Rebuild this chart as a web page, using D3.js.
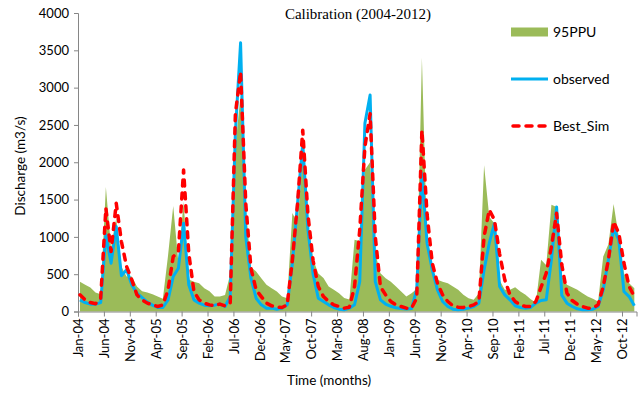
<!DOCTYPE html>
<html>
<head>
<meta charset="utf-8">
<script src="https://cdn.jsdelivr.net/npm/d3@7"></script>
<style>
  body { margin: 0; background: #fff; }
  svg { display: block; }
  .tick text { font-family: Lato, "Open Sans", sans-serif; font-size: 13px; fill: #000; }
  .tick line, .domain { stroke: #868686; }
</style>
</head>
<body>
<div id="chart"></div>
<script>
// monthly series, Jan-2004 .. Dec-2012 (108 months), m3/s
const ppu95 = [
  400, 360, 320, 255, 230, 1670, 850, 1250, 600, 470, 470, 335,
  270, 255, 230, 200, 170, 750, 1415, 650, 1470, 430, 400, 380,
  310, 270, 200, 200, 220, 500, 2200, 2900, 1400, 600, 535, 446,
  357, 312, 268, 200, 178, 1320, 1180, 2100, 1200, 700, 510, 450,
  335, 290, 245, 180, 160, 960, 940, 1900, 2000, 780, 513, 446,
  400, 335, 268, 200, 245, 300, 3400, 900, 520, 424, 400, 380,
  335, 290, 223, 178, 156, 245, 1960, 1270, 1180, 420, 290, 290,
  326, 268, 223, 165, 120, 692, 620, 1430, 1400, 468, 357, 326,
  290, 245, 200, 170, 134, 736, 900, 1440, 1000, 513, 380, 312
];
const observed = [
  156, 120, 98, 98, 120, 1027, 647, 1138, 480, 560, 357, 245,
  187, 125, 85, 54, 54, 156, 469, 580, 1183, 357, 156, 112,
  85, 76, 85, 100, 67, 200, 2400, 3600, 1000, 446, 178, 89,
  45, 45, 31, 45, 89, 647, 1450, 2254, 1100, 500, 178, 134,
  89, 54, 31, 22, 45, 90, 400, 2522, 2902, 400, 156, 100,
  70, 50, 40, 35, 40, 300, 1850, 915, 558, 290, 134, 67,
  31, 22, 31, 45, 67, 112, 558, 915, 1180, 335, 223, 156,
  76, 54, 45, 54, 112, 147, 156, 700, 1400, 220, 112, 67,
  36, 22, 22, 31, 67, 290, 692, 1116, 960, 268, 200, 76
];
const bestSim = [
  223, 156, 120, 103, 178, 1384, 803, 1451, 937, 603, 424, 223,
  156, 112, 89, 67, 89, 290, 736, 803, 1897, 781, 268, 156,
  112, 89, 76, 100, 76, 112, 2650, 3214, 1450, 580, 290, 200,
  112, 76, 58, 54, 89, 692, 1450, 2430, 1300, 680, 335, 200,
  134, 89, 67, 45, 58, 335, 1094, 2210, 2650, 1004, 330, 223,
  134, 89, 67, 45, 45, 180, 2430, 1300, 647, 380, 223, 134,
  76, 58, 54, 67, 89, 134, 1004, 1362, 1228, 770, 424, 223,
  134, 89, 67, 67, 134, 326, 513, 870, 1317, 625, 245, 147,
  98, 67, 45, 45, 89, 335, 692, 1205, 1049, 647, 335, 200
];
const tickLabels = ["Jan-04", "Jun-04", "Nov-04", "Apr-05", "Sep-05", "Feb-06", "Jul-06",
  "Dec-06", "May-07", "Oct-07", "Mar-08", "Aug-08", "Jan-09", "Jun-09", "Nov-09", "Apr-10",
  "Sep-10", "Feb-11", "Jul-11", "Dec-11", "May-12", "Oct-12"];
const yTicks = [0, 500, 1000, 1500, 2000, 2500, 3000, 3500, 4000];
const seriesNames = ["95PPU", "observed", "Best_Sim"];

const width = 640, height = 393;
const margin = {top: 13, right: 3.5, bottom: 81.5, left: 78};
const dayOffset = 0.38; // points sit a bit after the month tick

const svg = d3.select("#chart").append("svg")
    .attr("width", width)
    .attr("height", height);

let x = d3.scaleLinear()
    .domain([0, 107.8])
    .range([margin.left, width - margin.right]);
let y = d3.scaleLinear()
    .domain([0, 4000])
    .range([height - margin.bottom, margin.top]);

let px = (d, i) => x(i + dayOffset);

// 95PPU band
svg.append("path")
    .datum(ppu95)
    .attr("fill", "#9bbb59")
    .attr("d", d3.area().x(px).y0(y(0)).y1(d => y(d)));

// axes
let yAxis = svg.append("g")
    .attr("transform", `translate(${margin.left},0)`)
    .call(d3.axisLeft(y).tickValues(yTicks).tickSize(4).tickPadding(5).tickFormat(d3.format("d")));

let xAxis = svg.append("g")
    .attr("transform", `translate(0,${y(0)})`)
    .call(d3.axisBottom(x)
        .tickValues(tickLabels.map((d, i) => i * 5))
        .tickSize(5)
        .tickFormat((d, i) => tickLabels[i]));

xAxis.selectAll("text")
    .attr("transform", "rotate(-90)")
    .attr("text-anchor", "end")
    .attr("x", -7)
    .attr("y", 0)
    .attr("dy", "0.36em");

svg.selectAll(".domain").attr("stroke-width", 1);

// lines
svg.append("path")
    .datum(observed)
    .attr("fill", "none")
    .attr("stroke", "#00b0f0")
    .attr("stroke-width", 3)
    .attr("stroke-linejoin", "round")
    .attr("d", d3.line().x(px).y(d => y(d)));

svg.append("path")
    .datum(bestSim)
    .attr("fill", "none")
    .attr("stroke", "#ff0000")
    .attr("stroke-width", 3.5)
    .attr("stroke-linecap", "round")
    .attr("stroke-linejoin", "round")
    .attr("stroke-dasharray", "6,7")
    .attr("d", d3.line().x(px).y(d => y(d)));

// title and axis titles
svg.append("text")
    .attr("x", 358)
    .attr("y", 19)
    .attr("text-anchor", "middle")
    .style("font-family", "'Liberation Serif', 'Times New Roman', serif")
    .style("font-size", "15px")
    .text("Calibration (2004-2012)");

svg.append("text")
    .attr("x", 329)
    .attr("y", 385)
    .attr("text-anchor", "middle")
    .style("font-family", "Lato, sans-serif")
    .style("font-size", "13.5px")
    .text("Time (months)");

svg.append("text")
    .attr("transform", `translate(25,166) rotate(-90)`)
    .attr("text-anchor", "middle")
    .style("font-family", "Lato, sans-serif")
    .style("font-size", "13.5px")
    .text("Discharge (m3/s)");

// legend
let legend = svg.append("g").attr("transform", "translate(511,0)");
let rows = [32, 79, 126];

legend.append("rect")
    .attr("x", 0).attr("y", rows[0] - 4.5)
    .attr("width", 37).attr("height", 9)
    .attr("fill", "#9bbb59");
legend.append("line")
    .attr("x1", 0).attr("x2", 37).attr("y1", rows[1]).attr("y2", rows[1])
    .attr("stroke", "#00b0f0").attr("stroke-width", 3);
legend.append("line")
    .attr("x1", 2).attr("x2", 37).attr("y1", rows[2]).attr("y2", rows[2])
    .attr("stroke", "#ff0000").attr("stroke-width", 3.5)
    .attr("stroke-linecap", "round").attr("stroke-dasharray", "6,7");

legend.selectAll("text.lg")
    .data(seriesNames)
    .join("text")
    .attr("class", "lg")
    .attr("x", 42)
    .attr("y", (d, i) => rows[i])
    .attr("dy", "0.36em")
    .style("font-family", "Lato, sans-serif")
    .style("font-size", "14px")
    .text(d => d);
</script>
</body>
</html>
